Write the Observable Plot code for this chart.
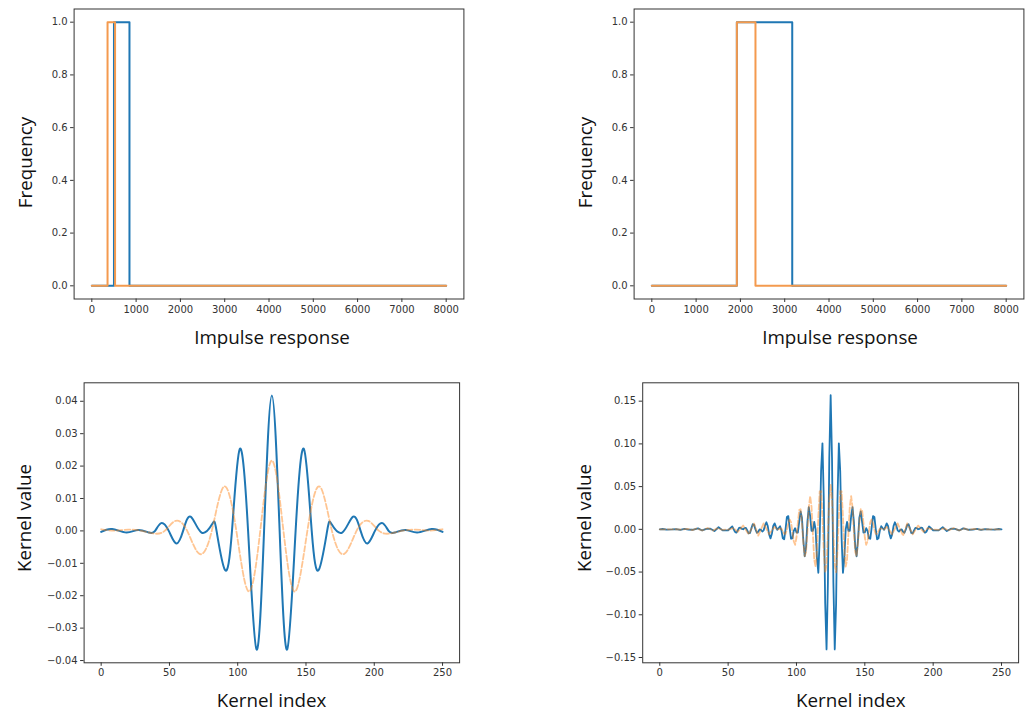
<!DOCTYPE html>
<html><head><meta charset="utf-8">
<script src="https://cdn.jsdelivr.net/npm/d3@7"></script>
<script src="https://cdn.jsdelivr.net/npm/@observablehq/plot@0.6"></script>
<style>
html,body{margin:0;padding:0;background:#fff}
body{width:1030px;height:713px;position:relative;overflow:hidden}
.panel{position:absolute}
</style></head><body>
<div id="tl" class="panel"></div>
<div id="tr" class="panel"></div>
<div id="bl" class="panel"></div>
<div id="br" class="panel"></div>
<script>
// ---------- data ----------
const freqTicks = [0, 1000, 2000, 3000, 4000, 5000, 6000, 7000, 8000];
const freqYTicks = [0, 0.2, 0.4, 0.6, 0.8, 1.0];
const kernelTicks = [0, 50, 100, 150, 200, 250];
const blYTicks = [-0.04, -0.03, -0.02, -0.01, 0, 0.01, 0.02, 0.03, 0.04];
const brYTicks = [-0.15, -0.10, -0.05, 0, 0.05, 0.10, 0.15];

// top-left band masks (breakpoints of step curves)
const tlBlueX = [0, 500, 850, 8000];
const tlBlueY = [0, 1, 0, 0];
const tlOrangeX = [0, 355, 525, 8000];
const tlOrangeY = [0, 1, 0, 0];
// top-right band masks
const trBlueX = [0, 1920, 3170, 8000];
const trBlueY = [0, 1, 0, 0];
const trOrangeX = [0, 1920, 2340, 8000];
const trOrangeY = [0, 1, 0, 0];

// bottom-left kernels
const blBlueIdx = [0, 8, 18.5, 27, 35, 39.5, 44, 49.5, 55, 60, 65.5, 73.5, 81.3, 84.5, 90.6, 95.8, 101.5, 107.6, 113.8, 119.3, 125,
  130.7, 136.2, 142.4, 148.5, 154.2, 159.4, 165.5, 168.7, 176.5, 184.5, 190, 195, 200.5, 206, 210.5, 215, 223, 231.5, 242, 250];
const blBlueVal = [-0.0003, 0.0006, -0.0005, 0.0003, -0.0005, 0, 0.0024, 0, -0.0039, 0, 0.0044, -0.0005, 0.0021, 0, -0.012, 0, 0.0253, 0, -0.0366, 0, 0.0418,
  0, -0.0366, 0, 0.0253, 0, -0.012, 0, 0.0021, -0.0005, 0.0044, 0, -0.0039, 0, 0.0024, 0, -0.0005, 0.0003, -0.0005, 0.0006, -0.0003];
const blOrangeIdx = [0, 10, 20, 30, 38.5, 46.5, 54.5, 63, 72, 81, 90, 99, 108, 116.5, 125,
  133.5, 142, 151, 160, 169, 178, 187, 195.5, 203.5, 211.5, 220, 230, 240, 250];
const blOrangeVal = [0.0005, 0.0001, 0.0004, 0, -0.0008, 0, 0.0031, 0, -0.0071, 0, 0.0137, 0, -0.0187, 0, 0.0217,
  0, -0.0187, 0, 0.0137, 0, -0.0071, 0, 0.0031, 0, -0.0008, 0, 0.0004, 0.0001, 0.0005];

// bottom-right kernels
const brBlueIdx = [0, 2, 5, 9, 12, 15, 18, 21, 24, 28, 31, 34, 37, 40, 43, 46, 50, 53,
  55, 56, 57, 58, 59, 60, 61, 62, 63, 64, 65, 66, 67, 68, 69, 70, 71, 72, 73, 74, 75, 76, 77, 78, 79, 80,
  81, 82, 83, 84, 85, 86, 87, 88, 89, 90, 91, 92, 93, 94, 95, 96, 97, 98, 99, 100, 101, 102, 103, 104, 105,
  106, 107, 108, 109, 110, 111, 112, 113, 114, 115, 116, 117, 118, 119, 120, 121, 122, 123, 124, 125,
  126, 127, 128, 129, 130, 131, 132, 133, 134, 135, 136, 137, 138, 139, 140, 141, 142, 143, 144, 145,
  146, 147, 148, 149, 150, 151, 152, 153, 154, 155, 156, 157, 158, 159, 160, 161, 162, 163, 164, 165,
  166, 167, 168, 169, 170, 171, 172, 173, 174, 175, 176, 177, 178, 179, 180, 181, 182, 183, 184, 185,
  186, 187, 188, 189, 190, 191, 192, 193, 194, 195,
  197, 200, 204, 207, 210, 213, 216, 219, 222, 226, 229, 232, 235, 238, 241, 245, 248, 250];
const brBlueVal = [0, 0.0004, -0.0004, -0.0001, 0.0003, -0.0006, 0.0006, -0.0003, -0.0005, 0.0011, -0.0013, 0.0006, 0.0008, -0.0020, 0.0024, -0.0012, -0.0011, 0.0034,
  -0.0028, -0.0039, -0.0014, 0.0017, 0.0021, 0.0006, 0.0001, 0.0014, 0.0017, -0.0013, -0.0048, -0.0043, 0.0011, 0.0060, 0.0052, -0.0002, -0.0040, -0.0028, -0.0002, -0.0005, -0.0026, -0.0012, 0.0046, 0.0083, 0.0038, -0.0059,
  -0.0106, -0.0052, 0.0039, 0.0070, 0.0029, -0.0005, 0.0015, 0.0037, -0.0014, -0.0105, -0.0117, 0.0003, 0.0145, 0.0155, 0.0020, -0.0110, -0.0106, -0.0019, 0.0013, -0.0036, -0.0039, 0.0086, 0.0209, 0.0137, -0.0125,
  -0.0315, -0.0209, 0.0089, 0.0259, 0.0156, -0.0019, -0.0019, 0.0087, -0.0002, -0.0336, -0.0509, -0.0097, 0.0683, 0.1007, 0.0334, -0.0864, -0.1405, -0.0621, 0.0836, 0.157,
  0.0836, -0.0621, -0.1405, -0.0864, 0.0334, 0.1007, 0.0683, -0.0097, -0.0509, -0.0336, -0.0002, 0.0087, -0.0019, -0.0019, 0.0156, 0.0259, 0.0089, -0.0209, -0.0315, -0.0125,
  0.0137, 0.0209, 0.0086, -0.0039, -0.0036, 0.0013, -0.0019, -0.0106, -0.0110, 0.0020, 0.0155, 0.0145, 0.0003, -0.0117, -0.0105, -0.0014, 0.0037, 0.0015, -0.0005, 0.0029,
  0.0070, 0.0039, -0.0052, -0.0106, -0.0059, 0.0038, 0.0083, 0.0046, -0.0012, -0.0026, -0.0005, -0.0002, -0.0028, -0.0040, -0.0002, 0.0052, 0.0060, 0.0011, -0.0043, -0.0048,
  -0.0013, 0.0017, 0.0014, 0.0001, 0.0006, 0.0021, 0.0017, -0.0014, -0.0039, -0.0028,
  0.0034, -0.0011, -0.0012, 0.0024, -0.0020, 0.0008, 0.0006, -0.0013, 0.0011, -0.0005, -0.0003, 0.0006, -0.0006, 0.0003, -0.0001, -0.0004, 0.0004, 0];
const brOrangeIdx = [0, 9, 12, 16, 20, 24, 27, 31, 35, 39, 42, 46, 50, 54, 57, 61, 65, 69, 72, 76, 80, 84,
  85, 86, 87, 88, 89, 90, 91, 92, 93, 94, 95, 96, 97, 98, 99, 100, 101, 102, 103, 104, 105,
  106, 107, 108, 109, 110, 111, 112, 113, 114, 115, 116, 117, 118, 119, 120, 121, 122, 123, 124, 125,
  126, 127, 128, 129, 130, 131, 132, 133, 134, 135, 136, 137, 138, 139, 140, 141, 142, 143, 144, 145,
  146, 147, 148, 149, 150, 151, 152, 153, 154, 155, 156, 157, 158, 159, 160, 161, 162, 163, 164, 165,
  166, 170, 174, 178, 181, 185, 189, 193, 196, 200, 204, 208, 211, 215, 219, 223, 226, 230, 234, 238, 241, 250];
const brOrangeVal = [0, 0, 0.0001, -0.0003, 0.0006, -0.0009, 0.0012, -0.0014, 0.0016, -0.0015, 0.0012, -0.0006, -0.0003, 0.0015, -0.0030, 0.0044, -0.0058, 0.0069, -0.0074, 0.0070, -0.0057, 0.0031,
  0.0009, -0.0003, 0.0001, 0.0011, 0.0007, -0.0021, -0.0052, -0.0053, -0.0005, 0.0069, 0.0115, 0.0085, -0.0021, -0.0139, -0.0181, -0.0096, 0.0076, 0.0225, 0.0236, 0.0079, -0.0157,
  -0.0313, -0.0267, -0.0029, 0.0254, 0.0388, 0.0265, -0.0051, -0.0356, -0.0437, -0.0225, 0.0151, 0.0444, 0.0448, 0.0151, -0.0258, -0.0504, -0.0419, -0.0053, 0.0351, 0.0525,
  0.0351, -0.0053, -0.0419, -0.0504, -0.0258, 0.0151, 0.0448, 0.0444, 0.0151, -0.0225, -0.0437, -0.0356, -0.0051, 0.0265, 0.0388, 0.0254, -0.0029, -0.0267, -0.0313, -0.0157,
  0.0079, 0.0236, 0.0225, 0.0076, -0.0096, -0.0181, -0.0139, -0.0021, 0.0085, 0.0115, 0.0069, -0.0005, -0.0053, -0.0052, -0.0021, 0.0007, 0.0011, 0.0001, -0.0003, 0.0009,
  0.0031, -0.0057, 0.0070, -0.0074, 0.0069, -0.0058, 0.0044, -0.0030, 0.0015, -0.0003, -0.0006, 0.0012, -0.0015, 0.0016, -0.0014, 0.0012, -0.0009, 0.0006, -0.0003, 0.0001, 0, 0];

// ---------- styling ----------
const BLUE = "#1f77b4";
const ORANGE_TOP = "#f49a4e";
const ORANGE = "#ff7f0e";
const LABEL_FONT = "'Open Sans', 'DejaVu Sans', sans-serif";
const LABEL_SIZE = 18.8;

const rows = (xs, ys) => xs.map((x, i) => ({x, y: ys[i]}));

function panel(cfg) {
  const el = document.getElementById(cfg.id);
  el.style.left = cfg.left + "px";
  el.style.top = cfg.top + "px";
  el.style.width = cfg.width + "px";
  el.style.height = cfg.height + "px";
  const f = cfg.frame;
  const midX = (f.l + f.r) / 2, midY = (f.t + f.b) / 2;
  const chart = Plot.plot({
    width: cfg.width,
    height: cfg.height,
    marginLeft: f.l - cfg.left,
    marginRight: cfg.left + cfg.width - f.r,
    marginTop: f.t - cfg.top,
    marginBottom: cfg.top + cfg.height - f.b,
    style: {background: "transparent", overflow: "visible", fontFamily: "'DejaVu Sans', sans-serif", fontSize: "10px", color: "#333"},
    x: {domain: cfg.xDomain, label: null},
    y: {domain: cfg.yDomain, label: null},
    marks: [
      ...cfg.marks,
      Plot.frame({stroke: "#333", strokeWidth: 1}),
      Plot.axisX(cfg.xTicks, {tickSize: 3.5, tickPadding: 3, tickFormat: d => String(d), label: null, fontSize: 10}),
      Plot.axisY(cfg.yTicks, {tickSize: 3.5, tickPadding: 3, tickFormat: cfg.yFormat, label: null, fontSize: 10}),
      Plot.text([cfg.xLabel], {frameAnchor: "bottom", lineAnchor: "bottom", textAnchor: "middle",
        dx: cfg.xLabelPos[0] - midX, dy: cfg.xLabelPos[1] - f.b,
        fontFamily: LABEL_FONT, fontSize: LABEL_SIZE, fill: "#111"}),
      Plot.text([cfg.yLabel], {frameAnchor: "left", lineAnchor: "middle", textAnchor: "middle", rotate: -90,
        dx: cfg.yLabelPos[0] - f.l, dy: cfg.yLabelPos[1] - midY,
        fontFamily: LABEL_FONT, fontSize: LABEL_SIZE, fill: "#111"})
    ]
  });
  el.appendChild(chart);
}

const fmt1 = d3.format(".1f");
const fmt2 = d3.format(".2f");

panel({
  id: "tl", left: 0, top: 0, width: 515, height: 357,
  frame: {l: 73.6, r: 463.4, t: 8.5, b: 298.5},
  xDomain: [-400, 8400], yDomain: [-0.05, 1.05],
  xTicks: freqTicks, yTicks: freqYTicks, yFormat: fmt1,
  xLabel: "Impulse response", xLabelPos: [271.5, 343],
  yLabel: "Frequency", yLabelPos: [25, 162],
  marks: [
    Plot.line(rows(tlBlueX, tlBlueY), {x: "x", y: "y", curve: "step-after", stroke: BLUE, strokeWidth: 2}),
    Plot.line(rows(tlOrangeX, tlOrangeY), {x: "x", y: "y", curve: "step-after", stroke: ORANGE_TOP, strokeWidth: 2})
  ]
});

panel({
  id: "tr", left: 515, top: 0, width: 515, height: 357,
  frame: {l: 633.6, r: 1023.4, t: 8.5, b: 298.5},
  xDomain: [-400, 8400], yDomain: [-0.05, 1.05],
  xTicks: freqTicks, yTicks: freqYTicks, yFormat: fmt1,
  xLabel: "Impulse response", xLabelPos: [839.5, 343],
  yLabel: "Frequency", yLabelPos: [585, 162],
  marks: [
    Plot.line(rows(trBlueX, trBlueY), {x: "x", y: "y", curve: "step-after", stroke: BLUE, strokeWidth: 2}),
    Plot.line(rows(trOrangeX, trOrangeY), {x: "x", y: "y", curve: "step-after", stroke: ORANGE_TOP, strokeWidth: 2})
  ]
});

panel({
  id: "bl", left: 0, top: 357, width: 515, height: 356,
  frame: {l: 83.6, r: 459.1, t: 382.3, b: 662.3},
  xDomain: [-12.5, 262.5], yDomain: [-0.0407, 0.0457],
  xTicks: kernelTicks, yTicks: blYTicks, yFormat: fmt2,
  xLabel: "Kernel index", xLabelPos: [271, 706],
  yLabel: "Kernel value", yLabelPos: [24, 517.5],
  marks: [
    Plot.line(rows(blBlueIdx, blBlueVal), {x: "x", y: "y", curve: "natural", stroke: BLUE, strokeWidth: 2}),
    Plot.line(rows(blOrangeIdx, blOrangeVal), {x: "x", y: "y", curve: "natural", stroke: ORANGE, strokeOpacity: 0.45, strokeWidth: 1.8, strokeDasharray: "5.5,2.4"})
  ]
});

panel({
  id: "br", left: 515, top: 357, width: 515, height: 356,
  frame: {l: 642.2, r: 1018.1, t: 382.3, b: 662.3},
  xDomain: [-12.5, 262.5], yDomain: [-0.1562, 0.1715],
  xTicks: kernelTicks, yTicks: brYTicks, yFormat: fmt2,
  xLabel: "Kernel index", xLabelPos: [850.3, 706],
  yLabel: "Kernel value", yLabelPos: [584, 517.5],
  marks: [
    Plot.line(rows(brBlueIdx, brBlueVal), {x: "x", y: "y", stroke: BLUE, strokeWidth: 1.8}),
    Plot.line(rows(brOrangeIdx, brOrangeVal), {x: "x", y: "y", stroke: ORANGE, strokeOpacity: 0.45, strokeWidth: 1.8, strokeDasharray: "5.5,2.4"})
  ]
});
</script>
</body></html>
